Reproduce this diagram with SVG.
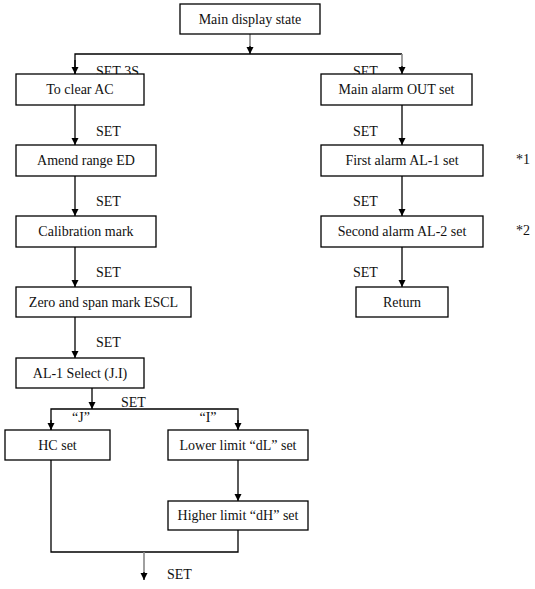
<svg xmlns="http://www.w3.org/2000/svg" width="535" height="589" viewBox="0 0 535 589">
<style>
.box{fill:#fff;stroke:#000;stroke-width:1.3}
.t{font-family:"Liberation Serif","Times New Roman",serif;font-size:14px;fill:#111}
.c{text-anchor:middle}
.ln{fill:none;stroke:#000;stroke-width:1.3}
.gl{fill:none;stroke:#888;stroke-width:1.6}
</style>
<defs>
<marker id="ah" markerUnits="userSpaceOnUse" markerWidth="8" markerHeight="8" refX="7" refY="3.5" orient="auto">
<path d="M0,0 L7,3.5 L0,7 z" fill="#000"/>
</marker>
</defs>
<rect width="535" height="589" fill="#fff"/>
<g id="labels">
<text class="t" x="96" y="76">SET 3S</text>
<text class="t" x="353" y="76">SET</text>
<text class="t" x="96" y="136">SET</text>
<text class="t" x="96" y="206">SET</text>
<text class="t" x="96" y="277">SET</text>
<text class="t" x="96" y="347">SET</text>
<text class="t" x="353" y="136">SET</text>
<text class="t" x="353" y="206">SET</text>
<text class="t" x="353" y="277">SET</text>
<text class="t" x="516" y="164">*1</text>
<text class="t" x="516" y="235">*2</text>
<text class="t" x="121" y="407">SET</text>
<text class="t c" x="81" y="422">“J”</text>
<text class="t c" x="208" y="422">“I”</text>
<text class="t" x="167" y="579">SET</text>
</g>
<g id="connectors">
<path class="gl" d="M250,34 V47"/>
<path class="ln" d="M250,46 V54" marker-end="url(#ah)"/>
<path class="ln" d="M75,74 V54 H402"/>
<path class="ln" d="M75,60 V74" marker-end="url(#ah)"/>
<path class="gl" d="M402,54 V67"/>
<path class="ln" d="M402,66 V74" marker-end="url(#ah)"/>
<path class="ln" d="M75,105 V145" marker-end="url(#ah)"/>
<path class="ln" d="M75,176 V216" marker-end="url(#ah)"/>
<path class="ln" d="M75,247 V287" marker-end="url(#ah)"/>
<path class="ln" d="M75,317 V358" marker-end="url(#ah)"/>
<path class="ln" d="M402,105 V145" marker-end="url(#ah)"/>
<path class="ln" d="M402,176 V216" marker-end="url(#ah)"/>
<path class="ln" d="M402,247 V287" marker-end="url(#ah)"/>
<path class="ln" d="M92,388 V409" marker-end="url(#ah)"/>
<path class="ln" d="M51,430 V409 H238 V430"/>
<path class="ln" d="M51,420 V430" marker-end="url(#ah)"/>
<path class="ln" d="M238,420 V430" marker-end="url(#ah)"/>
<path class="ln" d="M238,460 V501" marker-end="url(#ah)"/>
<path class="ln" d="M51,460 V552 H238 V530"/>
<path class="gl" d="M144,552 V573"/>
<path class="ln" d="M144,572 V580" marker-end="url(#ah)"/>
</g>
<g id="n-main"><rect class="box" x="180" y="4" width="140" height="30"/><text class="t c" x="250" y="24">Main display state</text></g>
<g id="n-clear"><rect class="box" x="16" y="74" width="128" height="31"/><text class="t c" x="80" y="94">To clear AC</text></g>
<g id="n-amend"><rect class="box" x="16" y="145" width="140" height="31"/><text class="t c" x="86" y="165">Amend range ED</text></g>
<g id="n-calib"><rect class="box" x="16" y="216" width="140" height="31"/><text class="t c" x="86" y="236">Calibration mark</text></g>
<g id="n-zero"><rect class="box" x="16" y="287" width="175" height="30"/><text class="t c" x="103.5" y="307">Zero and span mark ESCL</text></g>
<g id="n-al1sel"><rect class="box" x="16" y="358" width="128" height="30"/><text class="t c" x="80" y="378">AL-1 Select (J.I)</text></g>
<g id="n-hc"><rect class="box" x="5" y="430" width="105" height="30"/><text class="t c" x="57.5" y="450">HC set</text></g>
<g id="n-dl"><rect class="box" x="168" y="430" width="140" height="30"/><text class="t c" x="238" y="450">Lower limit “dL” set</text></g>
<g id="n-dh"><rect class="box" x="168" y="501" width="140" height="29"/><text class="t c" x="238" y="520">Higher limit “dH” set</text></g>
<g id="n-mainalarm"><rect class="box" x="321" y="74" width="151" height="31"/><text class="t c" x="396.5" y="94">Main alarm OUT set</text></g>
<g id="n-first"><rect class="box" x="321" y="145" width="162" height="31"/><text class="t c" x="402" y="165">First alarm AL-1 set</text></g>
<g id="n-second"><rect class="box" x="321" y="216" width="162" height="31"/><text class="t c" x="402" y="236">Second alarm AL-2 set</text></g>
<g id="n-return"><rect class="box" x="356" y="287" width="92" height="30"/><text class="t c" x="402" y="307">Return</text></g>
</svg>
